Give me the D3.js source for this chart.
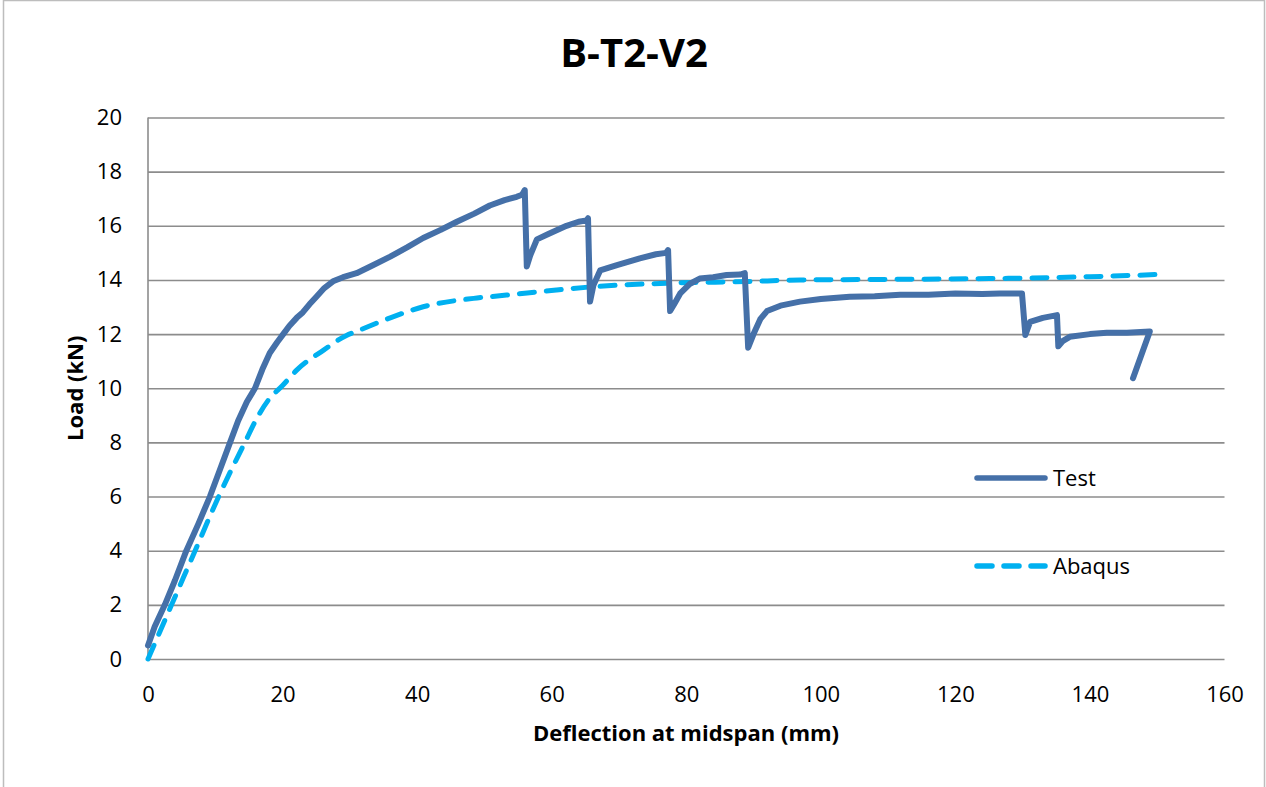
<!DOCTYPE html>
<html>
<head>
<meta charset="utf-8">
<script src="https://cdn.jsdelivr.net/npm/d3@7"></script>
<style>
  html, body { margin: 0; padding: 0; background: #fff; }
  svg { display: block; font-family: "Open Sans", "Noto Sans", sans-serif; }
</style>
</head>
<body>
<svg id="chart" width="1266" height="787"></svg>
<script>
// Load–deflection data for beam B-T2-V2
const chartTitle = "B-T2-V2";
const xTicks = [0, 20, 40, 60, 80, 100, 120, 140, 160];
const yTicks = [0, 2, 4, 6, 8, 10, 12, 14, 16, 18, 20];

// Test: deflection (mm) and load (kN)
const testDeflection = [0, 1.0, 2.5, 4.0, 5.7, 7.5, 9.2, 10.7, 12.2, 13.4, 14.7, 15.9, 17.0, 18.1, 19.2, 20.1, 21.0, 22.1, 23.0, 24.0, 25.1, 26.2, 27.5, 29.0, 31.0, 33.5, 36.0, 38.5, 40.9, 43.5, 45.9, 48.5, 50.8, 53.0, 54.8, 55.6, 56.0, 56.3, 56.8, 57.8, 59.5, 62.2, 64.0, 65.2, 65.4, 65.7, 66.2, 67.2, 69.7, 73.1, 75.5, 77.0, 77.3, 77.6, 78.2, 79.1, 80.5, 82.0, 84.0, 86.0, 88.0, 88.7, 89.2, 90.0, 91.0, 92.0, 94.0, 96.9, 100, 104.3, 108, 111.8, 116, 120, 124, 126.6, 129.9, 130.4, 131.1, 133, 135.1, 135.3, 136, 137.0, 140, 142.5, 145.5, 148.9, 146.4];
const testLoad = [0.5, 1.2, 2.0, 2.9, 4.0, 5.0, 6.0, 7.0, 8.0, 8.8, 9.5, 10.0, 10.7, 11.3, 11.7, 12.0, 12.3, 12.6, 12.8, 13.1, 13.4, 13.7, 13.95, 14.1, 14.25, 14.55, 14.86, 15.2, 15.55, 15.85, 16.15, 16.45, 16.75, 16.95, 17.07, 17.15, 17.32, 14.5, 14.9, 15.5, 15.7, 16.0, 16.15, 16.2, 16.28, 13.2, 13.8, 14.35, 14.55, 14.8, 14.95, 15.0, 15.1, 12.85, 13.1, 13.5, 13.85, 14.05, 14.1, 14.18, 14.2, 14.25, 11.5, 12.0, 12.55, 12.85, 13.05, 13.2, 13.3, 13.38, 13.4, 13.45, 13.45, 13.5, 13.48, 13.5, 13.5, 11.97, 12.45, 12.6, 12.7, 11.55, 11.75, 11.9, 12.0, 12.05, 12.05, 12.1, 10.37];

// Abaqus model: deflection (mm) and load (kN)
const abaqusDeflection = [0, 3.5, 7.0, 10.5, 14.4, 16.2, 18.0, 20.0, 22.1, 26.1, 29.5, 31.0, 36.0, 40.9, 48.4, 53.3, 60.7, 66.2, 77.1, 89.0, 96.9, 110, 125.1, 140, 150];
const abaqusLoad = [0, 2, 4, 6, 8, 8.9, 9.6, 10.1, 10.67, 11.41, 11.95, 12.1, 12.6, 13.01, 13.32, 13.44, 13.63, 13.75, 13.88, 13.94, 14.0, 14.02, 14.05, 14.12, 14.2];

const seriesNames = ["Test", "Abaqus"];
const seriesColors = ["#4570a8", "#00b0f0"];

const svg = d3.select("#chart");

// outer chart frame
svg.append("rect")
  .attr("x", 3.5).attr("y", 0.5)
  .attr("width", 1261).attr("height", 800)
  .attr("fill", "#fff").attr("stroke", "#bdbdbd").attr("stroke-width", 1.5);

const x = d3.scaleLinear().domain([0, 160]).range([148, 1224.5]);
const y = d3.scaleLinear().domain([0, 20]).range([659, 117.5]);

// horizontal gridlines
svg.append("g")
  .attr("transform", `translate(${x(0)},0)`)
  .call(d3.axisLeft(y).tickValues(yTicks).tickSize(-(x(160) - x(0))).tickFormat(""))
  .call(g => g.select(".domain").remove())
  .call(g => g.selectAll(".tick line").attr("stroke", "#8c8c8c").attr("stroke-width", 1.6));

// y axis line
svg.append("line")
  .attr("x1", x(0)).attr("x2", x(0))
  .attr("y1", y(20)).attr("y2", y(0))
  .attr("stroke", "#8c8c8c").attr("stroke-width", 1.6);

// y tick labels
svg.append("g")
  .attr("transform", `translate(${x(0)},0)`)
  .call(d3.axisLeft(y).tickValues(yTicks).tickSize(0).tickPadding(26).tickFormat(d3.format("d")))
  .call(g => g.select(".domain").remove())
  .call(g => g.selectAll("text").attr("font-size", 22).attr("fill", "#000")
    .style("font-family", "'Open Sans', sans-serif"));

// x tick labels
svg.append("g")
  .attr("transform", `translate(0,${y(0)})`)
  .call(d3.axisBottom(x).tickValues(xTicks).tickSize(0).tickPadding(27).tickFormat(d3.format("d")))
  .call(g => g.select(".domain").remove())
  .call(g => g.selectAll("text").attr("font-size", 22).attr("fill", "#000")
    .style("font-family", "'Open Sans', sans-serif"));

// title
svg.append("text")
  .attr("x", 634).attr("y", 67)
  .attr("text-anchor", "middle")
  .attr("font-size", 40).attr("font-weight", "bold")
  .text(chartTitle);

// axis titles
svg.append("text")
  .attr("x", 686).attr("y", 741)
  .attr("text-anchor", "middle")
  .attr("font-size", 22).attr("font-weight", "bold")
  .text("Deflection at midspan (mm)");

svg.append("text")
  .attr("transform", `translate(83,${(y(0) + y(20)) / 2}) rotate(-90)`)
  .attr("text-anchor", "middle")
  .attr("font-size", 22).attr("font-weight", "bold")
  .text("Load (kN)");

const line = d3.line().x(d => x(d[0])).y(d => y(d[1]));
const smooth = d3.line().x(d => x(d[0])).y(d => y(d[1])).curve(d3.curveMonotoneX);

const abaqus = abaqusDeflection.map((v, i) => [v, abaqusLoad[i]]);
const test = testDeflection.map((v, i) => [v, testLoad[i]]);

svg.append("path")
  .datum(abaqus)
  .attr("d", smooth)
  .attr("fill", "none")
  .attr("stroke", seriesColors[1])
  .attr("stroke-width", 5)
  .attr("stroke-linecap", "round")
  .attr("stroke-dasharray", "15,12");

svg.append("path")
  .datum(test)
  .attr("d", line)
  .attr("fill", "none")
  .attr("stroke", seriesColors[0])
  .attr("stroke-width", 6)
  .attr("stroke-linejoin", "round")
  .attr("stroke-linecap", "round");

// legend
const legend = svg.append("g");
const legendRows = [478, 566];
legend.append("line")
  .attr("x1", 977).attr("x2", 1045).attr("y1", legendRows[0]).attr("y2", legendRows[0])
  .attr("stroke", seriesColors[0]).attr("stroke-width", 5.5).attr("stroke-linecap", "round");
legend.append("line")
  .attr("x1", 977).attr("x2", 1045).attr("y1", legendRows[1]).attr("y2", legendRows[1])
  .attr("stroke", seriesColors[1]).attr("stroke-width", 5.5).attr("stroke-linecap", "round")
  .attr("stroke-dasharray", "15,12");
seriesNames.forEach((name, i) => {
  legend.append("text")
    .attr("x", 1053).attr("y", legendRows[i] + 8)
    .attr("font-size", 22)
    .text(name);
});
</script>
</body>
</html>
